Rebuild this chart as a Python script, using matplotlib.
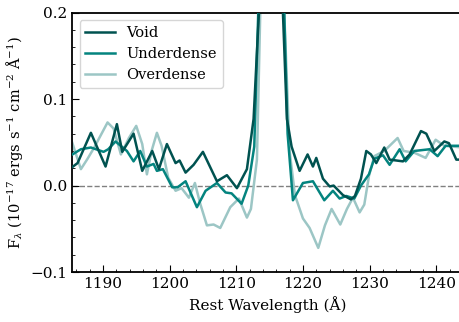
import matplotlib
matplotlib.use("Agg")
import matplotlib.pyplot as plt
from matplotlib.ticker import MultipleLocator

plt.rcParams['font.family'] = ['DejaVu Serif']
plt.rcParams['mathtext.fontset'] = 'dejavuserif'

void_wl = [1185.0, 1186.2, 1188.2, 1190.4, 1192.1, 1192.9, 1194.6, 1195.9, 1197.4, 1198.4,
           1199.6, 1200.9, 1201.5, 1202.4, 1203.6, 1205.0, 1207.1, 1208.6, 1210.1, 1211.6,
           1212.6, 1213.4, 1214.5, 1215.5, 1216.4, 1217.0, 1217.6, 1218.3, 1219.5, 1220.7,
           1221.5, 1222.0, 1223.0, 1224.0, 1224.6, 1226.0, 1227.2, 1227.8, 1228.7, 1229.5,
           1230.2, 1231.0, 1232.2, 1233.0, 1235.0, 1236.0, 1237.7, 1238.5, 1239.7, 1241.2,
           1241.9, 1243.0, 1244.0]
void_f = [0.019, 0.026, 0.061, 0.022, 0.071, 0.039, 0.060, 0.017, 0.040, 0.019,
          0.048, 0.026, 0.029, 0.015, 0.024, 0.039, 0.005, 0.012, -0.003, 0.019,
          0.077, 0.20, 0.45, 0.55, 0.45, 0.20, 0.077, 0.045, 0.017, 0.036,
          0.022, 0.032, 0.008, -0.001, 0.000, -0.011, -0.016, -0.012, 0.008, 0.040,
          0.036, 0.026, 0.044, 0.030, 0.028, 0.036, 0.063, 0.060, 0.040, 0.051,
          0.049, 0.030, 0.030]

under_wl = [1185.0, 1186.7, 1188.2, 1190.1, 1190.8, 1191.9, 1193.6, 1194.6, 1195.6, 1196.6,
            1197.6, 1198.1, 1199.0, 1200.4, 1201.2, 1202.4, 1204.1, 1205.4, 1207.1, 1208.4,
            1209.3, 1210.8, 1211.8, 1212.7, 1213.3, 1214.5, 1215.5, 1216.4, 1217.2, 1217.7,
            1218.5, 1220.0, 1221.5, 1223.2, 1224.5, 1225.5, 1226.5, 1227.7, 1228.7, 1229.9,
            1230.7, 1232.0, 1233.0, 1234.5, 1235.4, 1236.7, 1239.0, 1240.2, 1241.4, 1244.0]
under_f = [0.034, 0.042, 0.044, 0.039, 0.042, 0.051, 0.040, 0.028, 0.040, 0.022,
           0.025, 0.017, 0.019, -0.002, -0.002, 0.005, -0.025, -0.006, 0.003, -0.008,
           -0.009, -0.021, 0.000, 0.045, 0.20, 0.45, 0.55, 0.45, 0.20, 0.060,
           -0.017, 0.003, 0.005, -0.017, -0.006, -0.015, -0.012, -0.015, 0.000, 0.013,
           0.031, 0.035, 0.024, 0.042, 0.028, 0.040, 0.042, 0.034, 0.046, 0.046]

over_wl = [1185.0, 1186.7, 1187.7, 1188.7, 1190.7, 1191.6, 1192.7, 1193.9, 1195.0, 1195.9,
           1196.6, 1197.3, 1198.1, 1198.8, 1199.8, 1200.9, 1201.8, 1202.9, 1203.8, 1204.6,
           1205.6, 1206.6, 1207.6, 1209.1, 1210.4, 1211.6, 1212.2, 1213.1, 1213.6, 1214.5,
           1215.5, 1216.4, 1217.2, 1218.0, 1218.8, 1220.0, 1221.0, 1222.3, 1223.3, 1224.3,
           1225.6, 1226.6, 1227.5, 1228.5, 1229.2, 1229.9, 1230.7, 1232.2, 1234.2, 1235.1,
           1236.7, 1238.4, 1239.9, 1241.2, 1244.0]
over_f = [0.059, 0.019, 0.031, 0.044, 0.073, 0.066, 0.036, 0.055, 0.069, 0.048,
          0.013, 0.040, 0.061, 0.046, 0.009, -0.006, -0.003, -0.014, 0.003, -0.021,
          -0.046, -0.045, -0.049, -0.025, -0.015, -0.037, -0.027, 0.030, 0.20, 0.45,
          0.55, 0.45, 0.20, 0.040, -0.011, -0.038, -0.049, -0.072, -0.046, -0.027,
          -0.045, -0.027, -0.014, -0.031, -0.022, 0.011, 0.034, 0.040, 0.055, 0.040,
          0.038, 0.032, 0.053, 0.046, 0.044]

labels = ['Void', 'Underdense', 'Overdense']
colors = ['#005250', '#04847f', '#9cc6c5']

fig = plt.figure(figsize=(4.6, 3.22), dpi=100)
ax = fig.add_axes([0.157, 0.155, 0.848, 0.806])

ax.axhline(0, color='gray', ls='--', lw=1, zorder=1)
ax.plot(over_wl, over_f, color=colors[2], lw=1.8, label=labels[2], zorder=2)
ax.plot(under_wl, under_f, color=colors[1], lw=1.8, label=labels[1], zorder=3)
ax.plot(void_wl, void_f, color=colors[0], lw=1.8, label=labels[0], zorder=4)

ax.set_xlim(1185.4, 1243.9)
ax.set_ylim(-0.1, 0.2)
ax.xaxis.set_major_locator(MultipleLocator(10))
ax.xaxis.set_minor_locator(MultipleLocator(2))
ax.yaxis.set_major_locator(MultipleLocator(0.1))
ax.yaxis.set_minor_locator(MultipleLocator(0.02))
ax.tick_params(which='both', direction='in', labelsize=11)
ax.tick_params(which='major', length=5)
ax.tick_params(which='minor', length=2.5)
for s in ax.spines.values():
    s.set_linewidth(1.3)

ax.set_xlabel('Rest Wavelength (Å)', fontsize=11)
ax.set_ylabel(r'F$_\lambda$ (10$^{-17}$ ergs s$^{-1}$ cm$^{-2}$ Å$^{-1}$)', fontsize=10.5)

h, l = ax.get_legend_handles_labels()
order = [2, 1, 0]
ax.legend([h[i] for i in order], [l[i] for i in order], loc='upper left', fontsize=10.5)

fig.savefig('out.png', dpi=100)
